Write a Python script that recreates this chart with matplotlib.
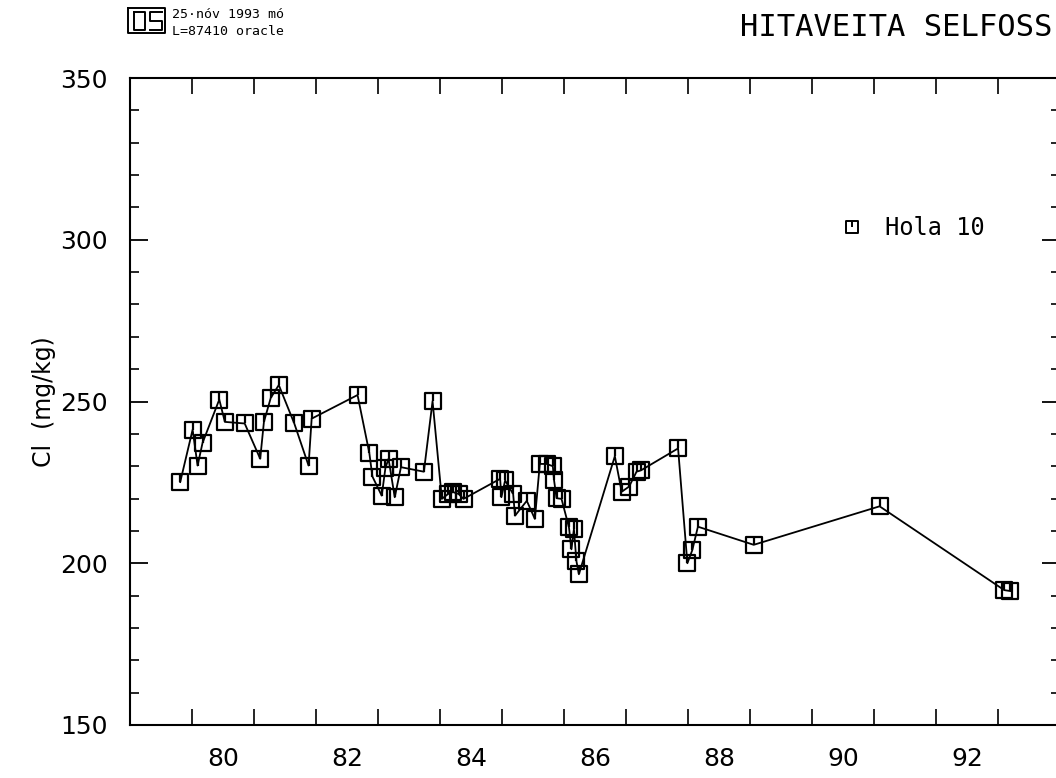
import matplotlib
matplotlib.use("Agg")
import matplotlib.pyplot as plt
import matplotlib.transforms as mtransforms
from matplotlib.path import Path
from matplotlib.lines import Line2D
import numpy as np

# Chloride in well "Hola 10", Hitaveita Selfoss (decimal year, two-digit)
years = [79.81, 80.01, 80.09, 80.17, 80.44, 80.53, 80.85, 81.10, 81.16, 81.27,
         81.40, 81.65, 81.88, 81.93, 82.67, 82.86, 82.91, 83.06, 83.12, 83.17,
         83.27, 83.37, 83.74, 83.88, 84.03, 84.13, 84.21, 84.30, 84.38, 84.97,
         84.99, 85.05, 85.18, 85.21, 85.40, 85.53, 85.61, 85.72, 85.82, 85.84,
         85.88, 85.96, 86.08, 86.12, 86.16, 86.20, 86.24, 86.82, 86.93, 87.05,
         87.17, 87.24, 87.84, 87.99, 88.07, 88.16, 89.06, 91.09, 93.10, 93.20]
cl = [225.1, 241.3, 230.2, 237.2, 250.6, 243.7, 243.2, 232.3, 243.7, 251.1,
      255.1, 243.2, 230.2, 244.7, 252.0, 234.1, 226.8, 220.9, 229.5, 232.3,
      220.4, 229.7, 228.3, 250.1, 219.9, 221.4, 222.0, 221.4, 219.9, 226.1,
      220.4, 225.6, 221.4, 214.7, 219.3, 213.7, 230.7, 230.7, 230.0, 225.6,
      220.1, 219.9, 211.1, 204.3, 210.6, 200.7, 196.6, 233.1, 222.1, 223.7,
      228.3, 228.7, 235.5, 200.0, 204.1, 211.3, 205.7, 217.6, 191.7, 191.4]

series_name = "Hola 10"
x_labels = ["80", "82", "84", "86", "88", "90", "92"]
y_ticks = [150, 200, 250, 300, 350]

W, H = 1056, 778
fig = plt.figure(figsize=(W / 100, H / 100), dpi=100)
ax = fig.add_axes([130 / W, 53 / H, 930 / W, 647 / H])

# open square with a stroke from the top edge down to the centre
box_marker = Path(
    [(-1, -1), (1, -1), (1, 1), (-1, 1), (-1, -1), (0, 1), (0, 0)],
    [Path.MOVETO, Path.LINETO, Path.LINETO, Path.LINETO, Path.CLOSEPOLY,
     Path.MOVETO, Path.LINETO],
)

ax.plot(years, cl, color="black", lw=1.3, marker=box_marker, ms=12,
        mfc="none", mec="black", mew=1.6)

ax.set_xlim(79, 94)
ax.set_ylim(150, 350)

# year boundaries as ticks, labels centred inside the year
ax.set_xticks(np.arange(79, 95))
ax.set_xticklabels([])
label_pos = [int(s) + 0.5 for s in x_labels]
ax.set_xticks(label_pos, minor=True)
ax.set_xticklabels(x_labels, minor=True)
ax.tick_params(axis="x", which="major", direction="in", length=11.5, width=1.2,
               top=True, bottom=True, labelbottom=False)
ax.tick_params(axis="x", which="minor", length=0, labelsize=18, pad=16)

ax.set_yticks(y_ticks)
ax.set_yticks(np.arange(150, 351, 10), minor=True)
ax.tick_params(axis="y", which="major", direction="in", length=13, width=1.3,
               left=True, right=True, labelsize=18, pad=16)
ax.tick_params(axis="y", which="minor", direction="in", length=6.5, width=1.2,
               left=True, right=True)

for sp in ax.spines.values():
    sp.set_linewidth(1.5)

ax.set_ylabel("Cl  (mg/kg)", fontsize=17)
ax.yaxis.set_label_coords((56 - 130) / 930, 0.5)

handle = Line2D([], [], marker=box_marker, ls="none", mfc="none", mec="black",
                ms=8.5, mew=1.4)
ax.legend([handle], [series_name], loc="center left",
          bbox_to_anchor=((840 - 130) / 930, (725 - 228) / 647),
          frameon=False, prop={"family": "DejaVu Sans Mono", "size": 17},
          handlelength=1.0, handletextpad=0.9, borderpad=0, borderaxespad=0)

fig.text(1052 / W, 1 - 27 / H, "HITAVEITA SELFOSS", ha="right", va="center",
         family="DejaVu Sans Mono", size=22)

# plot stamp: logo and date/run line
fig.text(172 / W, 1 - 18 / H, "25·nóv 1993 mó", ha="left", va="baseline",
         family="DejaVu Sans Mono", size=9.5)
fig.text(172 / W, 1 - 35 / H, "L=87410 oracle", ha="left", va="baseline",
         family="DejaVu Sans Mono", size=9.5)

pix = mtransforms.IdentityTransform()


def logo_line(xs, ys):
    fig.add_artist(Line2D(xs, [H - y for y in ys], transform=pix,
                          color="black", lw=1.4))


logo_line([128, 165, 165, 128, 128], [8, 8, 33, 33, 8])
logo_line([134, 145, 145, 134, 134], [12, 12, 30, 30, 12])
logo_line([162, 150, 150, 162, 162, 150], [12, 12, 21, 21, 30, 30])

fig.savefig("out.png", dpi=100)
